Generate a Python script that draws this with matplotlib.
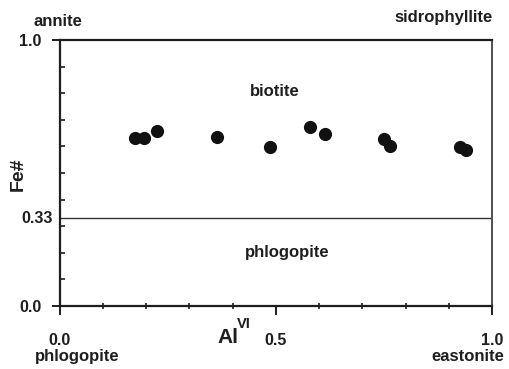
import numpy as np
import matplotlib.pyplot as plt
from matplotlib.ticker import MultipleLocator, FixedLocator

plt.rcParams['font.family'] = ['Liberation Sans', 'DejaVu Sans']
plt.rcParams['font.weight'] = 'bold'

# Al(VI) vs Fe# for the analysed biotites
al_vi = [0.174, 0.195, 0.226, 0.363, 0.487, 0.580, 0.614, 0.751, 0.764, 0.926, 0.939]
fe_num = [0.630, 0.632, 0.658, 0.634, 0.599, 0.672, 0.647, 0.627, 0.603, 0.599, 0.586]
boundary = 0.33

ink = '#1e1e1e'

fig = plt.figure(figsize=(5.10, 3.69), dpi=100)
ax = fig.add_axes([0.1167, 0.1707, 0.848, 0.7209])

ax.plot(al_vi, fe_num, 'o', color='#111111', markersize=9.5, markeredgewidth=0)
ax.axhline(boundary, color='#333333', lw=1.0)

ax.set_xlim(0, 1)
ax.set_ylim(0, 1)

for s in ['left', 'bottom', 'top']:
    ax.spines[s].set_linewidth(1.6)
    ax.spines[s].set_color(ink)
ax.spines['right'].set_linewidth(1.4)
ax.spines['right'].set_color('#505050')

# x ticks
ax.set_xticks([0.0, 0.5, 1.0])
ax.set_xticklabels(['0.0', '0.5', '1.0'])
ax.xaxis.set_minor_locator(FixedLocator([0.1, 0.2, 0.3, 0.4, 0.6, 0.7, 0.8, 0.9]))
ax.tick_params(axis='x', which='major', direction='out', length=6.5, width=1.4,
               color=ink, pad=13, labelsize=11.5, labelcolor=ink)
ax.tick_params(axis='x', which='minor', direction='inout', length=4.5, width=1.2, color=ink)

# y ticks
ax.set_yticks([0.0, 1.0])
ax.set_yticklabels(['0.0', '1.0'])
ax.yaxis.set_minor_locator(FixedLocator([0.1, 0.2, 0.3, 0.4, 0.5, 0.6, 0.7, 0.8, 0.9]))
ax.tick_params(axis='y', which='major', direction='out', length=6, width=1.4,
               color=ink, pad=7, labelsize=11.5, labelcolor=ink)
ax.tick_params(axis='y', which='minor', direction='in', length=3.5, width=1.2, color=ink)
ax.text(-0.015, boundary, '0.33', transform=ax.get_yaxis_transform(),
        ha='right', va='center', fontsize=11.5, color=ink)

# field and end-member names
ax.text(0.498, 0.805, 'biotite', ha='center', va='center', fontsize=12, color=ink)
ax.text(0.526, 0.203, 'phlogopite', ha='center', va='center', fontsize=12, color=ink)
ax.text(-0.004, 1.071, 'annite', transform=ax.transAxes, ha='center', va='center',
        fontsize=12, color=ink)
ax.text(0.889, 1.086, 'sidrophyllite', transform=ax.transAxes, ha='center', va='center',
        fontsize=12, color=ink)
ax.text(0.040, -0.188, 'phlogopite', transform=ax.transAxes, ha='center', va='center',
        fontsize=12, color=ink)
ax.text(0.944, -0.188, 'eastonite', transform=ax.transAxes, ha='center', va='center',
        fontsize=12, color=ink)

# axis titles
ax.text(-0.096, 0.496, 'Fe#', transform=ax.transAxes, rotation=90, ha='center',
        va='center', fontsize=14, color=ink)
ax.text(0.389, -0.117, 'Al', transform=ax.transAxes, ha='center', va='center',
        fontsize=15, color=ink)
ax.text(0.427, -0.066, 'VI', transform=ax.transAxes, ha='center', va='center',
        fontsize=10.5, color=ink)

fig.savefig('out.png', dpi=100)
